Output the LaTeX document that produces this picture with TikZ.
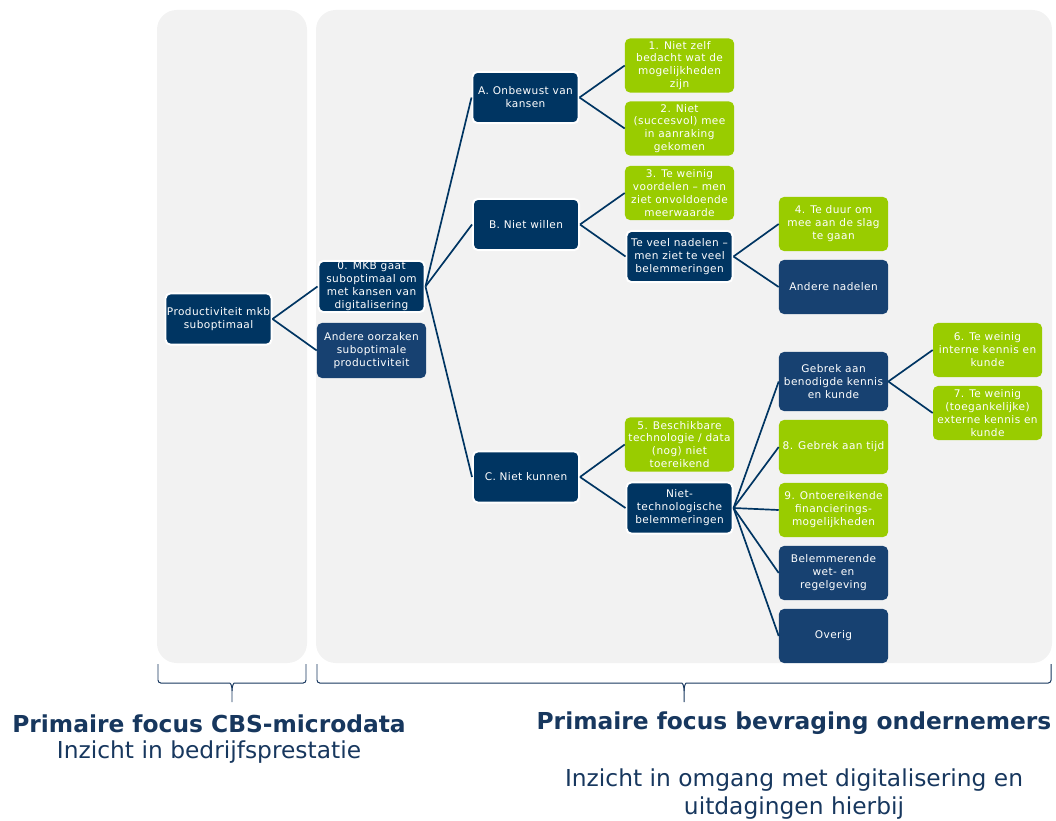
\documentclass[tikz,border=0pt]{standalone}
\usepackage{fontspec}
\setmainfont{DejaVu Sans}
\newfontfamily\boxfont[LetterSpace=4]{DejaVu Sans}
\usetikzlibrary{positioning}

\definecolor{navy}{HTML}{003562}
\definecolor{navylight}{HTML}{174171}
\definecolor{leaf}{HTML}{99CC00}
\definecolor{panelgray}{HTML}{F2F2F2}
\definecolor{captionblue}{HTML}{17375E}

\begin{document}
\begin{tikzpicture}[x=0.025cm, y=-0.025cm,
    box/.style={rounded corners=3.5pt, minimum width=2.725cm, minimum height=1.35cm,
        inner xsep=0pt, inner ysep=0pt, align=center, text=white,
        font=\boxfont\fontsize{7.5}{9.2}\selectfont},
    mainbox/.style={box, fill=navy, draw=white, line width=1.4pt, minimum width=2.65cm, minimum height=1.28cm},
    subbox/.style={box, fill=navylight},
    leafbox/.style={box, fill=leaf},
    link/.style={draw=navy, line width=1.2pt},
    brace/.style={draw=captionblue, line width=0.7pt, rounded corners=2pt},
    caption/.style={text=captionblue, align=center}]
    \useasboundingbox (0,0) rectangle (1056,820);

    % achtergrondvlakken
    \fill[panelgray, rounded corners=14pt] (157,10) rectangle (307,663);
    \fill[panelgray, rounded corners=14pt] (316,10) rectangle (1052,663);

    % boom
    \node[mainbox] (prod) at (218.5,319) {Productiviteit mkb\\suboptimaal};
    \node[mainbox] (mkb) at (371.5,286.5) {0. MKB gaat\\suboptimaal om\\met kansen van\\digitalisering};
    \node[subbox, minimum height=1.375cm] (andoorz) at (371.5,350.5) {Andere oorzaken\\suboptimale\\productiviteit};

    \node[mainbox] (onbewust) at (525.5,97.5) {A. Onbewust van\\kansen};
    \node[mainbox] (willen) at (526,224.5) {B. Niet willen};
    \node[mainbox] (kunnen) at (526,477) {C. Niet kunnen};

    \node[leafbox] (zelf) at (679.5,65.5) {1. Niet zelf\\bedacht wat de\\mogelijkheden\\zijn};
    \node[leafbox] (aanraking) at (679.5,128.5) {2. Niet\\(succesvol) mee\\in aanraking\\gekomen};
    \node[leafbox] (voordelen) at (679.5,193) {3. Te weinig\\voordelen – men\\ziet onvoldoende\\meerwaarde};
    \node[mainbox] (nadelen) at (679.5,256.5) {Te veel nadelen –\\men ziet te veel\\belemmeringen};
    \node[leafbox] (duur) at (833.5,224) {4. Te duur om\\mee aan de slag\\te gaan};
    \node[subbox] (andnad) at (833.5,287) {Andere nadelen};

    \node[leafbox] (techno) at (679.5,444.5) {5. Beschikbare\\technologie / data\\(nog) niet\\toereikend};
    \node[mainbox] (niettech) at (679.5,508) {Niet-\\technologische\\belemmeringen};

    \node[subbox, minimum height=1.475cm] (kennis) at (833.5,381.5) {Gebrek aan\\benodigde kennis\\en kunde};
    \node[leafbox] (intern) at (987.5,350) {6. Te weinig\\interne kennis en\\kunde};
    \node[leafbox] (extern) at (987.5,413) {7. Te weinig\\(toegankelijke)\\externe kennis en\\kunde};
    \node[leafbox] (tijd) at (833.5,447) {8. Gebrek aan tijd};
    \node[leafbox] (financ) at (833.5,510) {9. Ontoereikende\\financierings-\\mogelijkheden};
    \node[subbox] (wetgev) at (833.5,573) {Belemmerende\\wet- en\\regelgeving};
    \node[subbox] (overig) at (833.5,636) {Overig};

    \draw[link] (prod.east) -- (mkb.west);
    \draw[link] (prod.east) -- (andoorz.west);
    \foreach \kind in {onbewust, willen, kunnen}
        \draw[link] (mkb.east) -- (\kind.west);
    \draw[link] (onbewust.east) -- (zelf.west);
    \draw[link] (onbewust.east) -- (aanraking.west);
    \draw[link] (willen.east) -- (voordelen.west);
    \draw[link] (willen.east) -- (nadelen.west);
    \draw[link] (nadelen.east) -- (duur.west);
    \draw[link] (nadelen.east) -- (andnad.west);
    \draw[link] (kunnen.east) -- (techno.west);
    \draw[link] (kunnen.east) -- (niettech.west);
    \foreach \kind in {kennis, tijd, financ, wetgev, overig}
        \draw[link] (niettech.east) -- (\kind.west);
    \draw[link] (kennis.east) -- (intern.west);
    \draw[link] (kennis.east) -- (extern.west);

    % accolades
    \coordinate (lefttip) at (232,702);
    \coordinate (righttip) at (684,702);
    \draw[brace] (158,664) |- (227,683) .. controls (230,683) and (232,685) .. (232,691) -- (lefttip);
    \draw[brace] (306,664) |- (237,683) .. controls (234,683) and (232,685) .. (232,691);
    \draw[brace] (317,664) |- (679,683) .. controls (682,683) and (684,685) .. (684,691) -- (righttip);
    \draw[brace] (1051,664) |- (689,683) .. controls (686,683) and (684,685) .. (684,691);

    % onderschriften
    \node[caption, font=\fontsize{16.6}{19}\selectfont\bfseries] (cbs) at (209,724) {Primaire focus CBS-microdata};
    \node[caption, font=\fontsize{16.6}{19}\selectfont] (prestatie) at (209,752) {Inzicht in bedrijfsprestatie};
    \node[caption, font=\fontsize{16.6}{19}\selectfont\bfseries] (bevraging) at (794,723) {Primaire focus bevraging ondernemers};
    \node[caption, font=\fontsize{16.6}{19.6}\selectfont] (omgang) at (794,794) {Inzicht in omgang met digitalisering en\\uitdagingen hierbij};
\end{tikzpicture}
\end{document}
